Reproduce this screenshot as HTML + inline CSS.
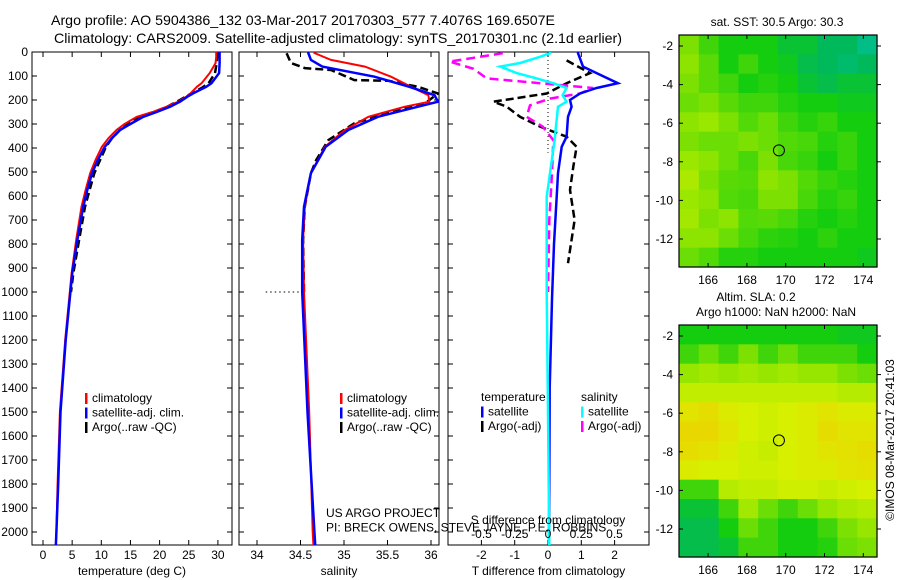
<!DOCTYPE html>
<html><head><meta charset="utf-8">
<style>
html,body{margin:0;padding:0;background:#fff;width:900px;height:580px;overflow:hidden}
svg{position:absolute;left:0;top:0;font-family:"Liberation Sans",sans-serif;font-size:12px}
</style></head>
<body>
<svg id="chart" width="900" height="580" viewBox="0 0 900 580" xmlns="http://www.w3.org/2000/svg">
<text x="51" y="25" text-anchor="start" font-size="14" textLength="504" lengthAdjust="spacingAndGlyphs">Argo profile: AO 5904386_132 03-Mar-2017 20170303_577 7.4076S 169.6507E</text>
<text x="54" y="43" text-anchor="start" font-size="14" textLength="568" lengthAdjust="spacingAndGlyphs">Climatology: CARS2009. Satellite-adjusted climatology: synTS_20170301.nc (2.1d earlier)</text>
<text x="777" y="26" text-anchor="middle">sat. SST: 30.5 Argo: 30.3</text>
<text x="756" y="301" text-anchor="middle">Altim. SLA: 0.2</text>
<text x="776" y="316" text-anchor="middle">Argo h1000: NaN h2000: NaN</text>
<text x="0" y="0" text-anchor="middle" transform="translate(894,440) rotate(-90)">©IMOS 08-Mar-2017 20:41:03</text>
<g id="g"></g>
</svg>
<script>
// ---- data ----
const depthTicks=[0,100,200,300,400,500,600,700,800,900,1000,1100,1200,1300,1400,1500,1600,1700,1800,1900,2000];
const tempTicks=[0,5,10,15,20,25,30];
const salTicks=[34,34.5,35,35.5,36];
const tdTicks=[-2,-1,0,1,2];
const sdTicks=[-0.5,-0.25,0,0.25,0.5];
const sdTickLabels=["-0.5","-0.25","0","0.25","0.5"];
const lonTicks=[166,168,170,172,174];
const latTicks=[-2,-4,-6,-8,-10,-12];

const climDepth=[0,20,46,88,130,145,173,186,207,228,250,270,300,325,360,395,450,505,575,645,783,922,1000,1200,1500,1800,2000,2060];
const tempClim=[29.7,29.7,29.6,28.6,27.2,26.4,25.3,24.6,23.2,21.2,18.8,16.1,14.0,12.6,11.2,10.1,9.0,8.1,7.3,6.6,5.7,4.9,4.6,3.8,2.9,2.5,2.3,2.2];
const tempSat=[30.3,30.3,30.3,30.2,28.9,28.0,25.7,24.8,23.5,21.8,19.5,17.2,15.0,13.2,11.8,10.6,9.4,8.4,7.6,6.9,5.9,5.0,4.7,3.9,3.0,2.6,2.3,2.2];
const argoTDepth=[5,20,46,88,130,150,173,200,228,250,270,300,325,360,395,450,505,575,645,783,922,1000];
const argoTemp=[29.9,29.9,29.8,29.5,28.4,27.2,25.4,23.5,21.3,19.0,16.6,14.6,13.2,11.8,10.8,9.8,8.8,8.0,7.2,6.2,5.2,4.8];

const salDepth=[0,4,33,61,103,145,180,207,228,270,325,395,505,645,783,1000,1500,2000,2060];
const salClim=[34.66,34.66,34.85,35.24,35.54,35.77,35.97,35.98,35.70,35.28,35.01,34.78,34.62,34.55,34.53,34.54,34.6,34.64,34.65];
const salSat=[34.59,34.59,34.62,34.75,35.35,35.75,36.04,36.08,35.85,35.39,35.05,34.79,34.62,34.54,34.52,34.52,34.58,34.66,34.67];
const argoSDepth=[5,46,67,75,117,120,145,173,214,256,297,367,450,505,645,783,1000];
const argoSal=[34.34,34.39,34.55,34.85,35.12,35.51,35.85,36.08,35.93,35.47,35.12,34.82,34.68,34.62,34.55,34.53,34.54];

const tdDepth=[0,5,61,88,130,150,173,200,228,270,353,395,505,603,800,1030,1400,2060];
const tdSat=[0.9,0.9,1.05,1.46,2.1,1.46,0.96,0.66,0.71,0.6,0.56,0.41,0.3,0.26,0.18,0.12,0.05,0.03];
const sdDepth=[0,5,20,46,61,88,110,130,150,180,207,228,367,505,603,1000,1500,2060];
const sdSat=[0.015,0.015,-0.06,-0.21,-0.36,-0.235,-0.085,0.04,0.14,0.11,0.14,0.075,0.05,0.015,-0.01,-0.01,0,0.01];
const argoTdDepth=[35,88,130,173,207,228,270,311,353,395,478,575,700,880];
const argoTd=[0.56,1.26,0.56,-0.04,-1.64,-1.24,-0.84,-0.24,0.56,0.86,0.76,0.66,0.8,0.6];
const argoSdDepth=[5,40,70,110,130,150,173,194,222,270,311,367,505,700,1000];
const argoSd=[-0.34,-0.74,-0.56,-0.46,-0.06,0.34,0.24,0.015,-0.135,-0.16,-0.04,0.04,0.03,0.01,0];

const sstGrid=[
[.62,.55,.5,.5,.5,.45,.45,.4,.4,.35],
[.64,.58,.5,.55,.5,.48,.42,.4,.38,.4],
[.62,.58,.55,.5,.52,.5,.45,.42,.45,.45],
[.6,.62,.58,.55,.55,.52,.5,.5,.48,.48],
[.64,.66,.62,.57,.6,.55,.52,.54,.5,.5],
[.62,.6,.6,.62,.6,.57,.56,.52,.54,.5],
[.66,.64,.6,.56,.62,.56,.54,.5,.54,.5],
[.7,.62,.58,.57,.64,.62,.57,.54,.52,.5],
[.66,.64,.57,.56,.62,.62,.56,.52,.54,.5],
[.68,.62,.64,.57,.58,.56,.52,.5,.52,.5],
[.64,.64,.6,.56,.53,.52,.5,.53,.5,.5],
[.6,.57,.52,.52,.5,.5,.5,.5,.5,.48]];
const slaGrid=[
[.5,.5,.5,.5,.5,.5,.5,.5,.48,.48],
[.55,.6,.55,.62,.55,.6,.55,.55,.55,.5],
[.65,.68,.65,.68,.65,.68,.65,.65,.62,.6],
[.75,.75,.75,.75,.75,.75,.75,.75,.72,.72],
[.85,.88,.82,.8,.78,.8,.82,.85,.82,.82],
[.9,.9,.85,.8,.78,.8,.82,.88,.85,.85],
[.88,.86,.82,.78,.76,.8,.82,.85,.86,.88],
[.82,.8,.8,.78,.78,.8,.82,.82,.85,.86],
[.55,.55,.72,.75,.75,.78,.78,.76,.78,.8],
[.45,.45,.55,.68,.6,.55,.6,.65,.7,.72],
[.42,.42,.5,.6,.55,.5,.5,.55,.62,.65],
[.42,.42,.45,.55,.55,.5,.5,.52,.6,.62]];
const argoLon=169.6507, argoLat=-7.4076;

// ---- helpers ----
const NS="http://www.w3.org/2000/svg";
const root=document.getElementById('g');
function mk(tag,attrs,parent){const e=document.createElementNS(NS,tag);for(const k in attrs)e.setAttribute(k,attrs[k]);(parent||root).appendChild(e);return e;}
const dY=d=>52+d*0.24;
const PT=52,PB=545;
const tX=v=>43+5.83*v, sX=v=>257+87*(v-34), tdX=v=>548+33.3*v, sdX=v=>548+133*v;

function clip(id,x0,x1){const c=mk('clipPath',{id:id});mk('rect',{x:x0,y:PT,width:x1-x0,height:PB-PT},c);}
function line(xs,ds,fx,color,w,dash,name,clipId){
  const p=mk('polyline',{points:xs.map((v,i)=>fx(v).toFixed(1)+','+dY(ds[i]).toFixed(1)).join(' '),fill:'none',stroke:color,'stroke-width':w,'clip-path':'url(#'+clipId+')'});
  if(dash)p.setAttribute('stroke-dasharray',dash);
  
  
}
function frame(x0,x1,name,xt,fx,labels,xlabel,showY){
  const r=mk('rect',{x:x0,y:PT,width:x1-x0,height:PB-PT,fill:'none',stroke:'#000','stroke-width':1});
  
  
  depthTicks.forEach(d=>{const y=dY(d);mk('line',{x1:x0,x2:x0+5,y1:y,y2:y,stroke:'#000'});mk('line',{x1:x1-5,x2:x1,y1:y,y2:y,stroke:'#000'});
    if(showY){const t=mk('text',{x:28,y:y+4,'text-anchor':'end'});t.textContent=d;
      
      }});
  xt.forEach((v,i)=>{const x=fx(v);mk('line',{x1:x,x2:x,y1:PB,y2:PB-5,stroke:'#000'});mk('line',{x1:x,x2:x,y1:PT,y2:PT+5,stroke:'#000'});
    const t=mk('text',{x:x,y:559,'text-anchor':'middle'});t.textContent=labels?labels[i]:v;
    
    });
  const xl=mk('text',{x:(x0+x1)/2,y:575,'text-anchor':'middle'});xl.textContent=xlabel;
  
  
}
function legend(x,y,items){
  items.forEach((it,i)=>{
    if(it.c){const b=mk('rect',{x:x,y:y+i*14.5-9,width:2.5,height:11,fill:it.c});
      
      }
    const t=mk('text',{x:x+(it.c?7:0),y:y+i*14.5});t.textContent=it.t;
    
    
  });
}
function cmap(v){
  const st=[[0,[0,0,255]],[0.25,[0,200,220]],[0.4,[0,185,90]],[0.5,[20,205,15]],[0.65,[150,230,0]],[0.8,[215,240,0]],[1,[250,190,0]]];
  for(let i=1;i<st.length;i++){if(v<=st[i][0]){const a=st[i-1],b=st[i],f=(v-a[0])/(b[0]-a[0]);
    return 'rgb('+a[1].map((c,j)=>Math.round(c+(b[1][j]-c)*f)).join(',')+')';}}
  return 'rgb(250,190,0)';
}
function map(top,grid,name){
  const x0=679,x1=877,y1=top+232;
  const lonX=l=>679+(l-164.5)*19.4, latY=l=>top+11+(-2-l)*19.3;
  const g=mk('g',{});
  const rows=grid.length,cols=grid[0].length,cw=(x1-x0)/cols,ch=(y1-top)/rows;
  grid.forEach((row,r)=>row.forEach((v,c)=>{
    const cell=mk('rect',{x:(x0+c*cw).toFixed(2),y:(top+r*ch).toFixed(2),width:(cw+0.6).toFixed(2),height:(ch+0.6).toFixed(2),fill:cmap(v)},g);
    
    
  }));
  mk('rect',{x:x0,y:top,width:x1-x0,height:y1-top,fill:'none',stroke:'#000','stroke-width':1.2},g);
  lonTicks.forEach(l=>{const x=lonX(l);mk('line',{x1:x,x2:x,y1:top,y2:top+4,stroke:'#000'},g);mk('line',{x1:x,x2:x,y1:y1,y2:y1-4,stroke:'#000'},g);
    const t=mk('text',{x:x,y:y1+17,'text-anchor':'middle'},g);t.textContent=l;
    
    });
  latTicks.forEach(l=>{const y=latY(l);mk('line',{x1:x0,x2:x0+4,y1:y,y2:y,stroke:'#000'},g);mk('line',{x1:x1,x2:x1+4,y1:y,y2:y,stroke:'#000'},g);
    const t=mk('text',{x:x0-6,y:y+4,'text-anchor':'end'},g);t.textContent=l;
    
    });
  const c=mk('circle',{cx:lonX(argoLon),cy:latY(argoLat),r:5.5,fill:'none',stroke:'#000','stroke-width':1},g);
  
  
}

// ---- panel 1 temperature ----
clip('c1',32,232);clip('c2',239,439);clip('c3',448,649);
frame(32,232,'temperature-panel',tempTicks,tX,null,'temperature (deg C)',true);
line(argoTemp,argoTDepth,tX,'#000',2.5,'8,4','argo-temperature-line','c1');
line(tempClim,climDepth,tX,'#f00',2,null,'climatology-temperature-line','c1');
line(tempSat,climDepth,tX,'#00f',2.5,null,'satellite-temperature-line','c1');
legend(85,402,[{c:'#f00',t:'climatology'},{c:'#00f',t:'satellite-adj. clim.'},{c:'#000',t:'Argo(..raw -QC)'}]);

// ---- panel 2 salinity ----
frame(239,439,'salinity-panel',salTicks,sX,null,'salinity',false);
line(argoSal,argoSDepth,sX,'#000',2.5,'8,4','argo-salinity-line','c2');
line(salClim,salDepth,sX,'#f00',2,null,'climatology-salinity-line','c2');
line(salSat,salDepth,sX,'#00f',2.5,null,'satellite-salinity-line','c2');
mk('line',{x1:sX(34.1),x2:sX(34.5),y1:dY(1000),y2:dY(1000),stroke:'#000','stroke-dasharray':'1.5,3'});
legend(340,402,[{c:'#f00',t:'climatology'},{c:'#00f',t:'satellite-adj. clim.'},{c:'#000',t:'Argo(..raw -QC)'}]);

// ---- panel 3 differences ----
frame(448,649,'difference-panel',tdTicks,tdX,null,'T difference from climatology',false);
mk('line',{x1:tdX(0),x2:tdX(0),y1:PT,y2:dY(420),stroke:'#000','stroke-dasharray':'1,3'});
line(argoTd,argoTdDepth,tdX,'#000',2.5,'8,4','argo-t-diff-line','c3');
line(argoSd,argoSdDepth,sdX,'#f0f',2.5,'9,5','argo-s-diff-line','c3');
line(tdSat,tdDepth,tdX,'#00f',2.5,null,'satellite-t-diff-line','c3');
line(sdSat,sdDepth,sdX,'#0ff',2.5,null,'satellite-s-diff-line','c3');
sdTicks.forEach((v,i)=>{const t=mk('text',{x:sdX(v),y:538,'text-anchor':'middle'});t.textContent=sdTickLabels[i];
  
  });
const sdt=mk('text',{x:548,y:524,'text-anchor':'middle'});sdt.textContent='S difference from climatology';


legend(481,401,[{t:'temperature'},{c:'#00f',t:'satellite'},{c:'#000',t:'Argo(-adj)'}]);
legend(581,401,[{t:'salinity'},{c:'#0ff',t:'satellite'},{c:'#f0f',t:'Argo(-adj)'}]);
legend(326,517,[{t:'US ARGO PROJECT'},{t:'PI: BRECK OWENS, STEVE JAYNE, P.E. ROBBINS'}]);

// ---- maps ----
map(35,sstGrid,'sst-map');
map(325,slaGrid,'sla-map');
</script>
</body></html>
